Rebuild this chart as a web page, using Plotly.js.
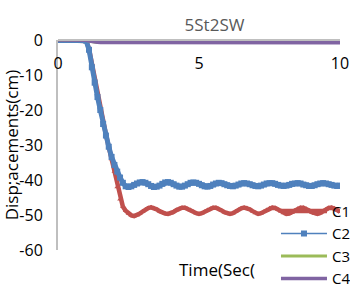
<!DOCTYPE html>
<html>
<head>
<meta charset="utf-8">
<script src="https://cdn.plot.ly/plotly-3.0.1.min.js"></script>
<style>html,body{margin:0;padding:0;background:#fff;}#chart{width:350px;height:287px;}</style>
</head>
<body>
<div id="chart"></div>
<script>
var chartTitle = "5St2SW";
var xTitle = "Time(Sec(";
var yTitle = "Disp;acements(cm)";
var seriesNames = ["C1", "C2", "C3", "C4"];
var yTickVals = [0, -10, -20, -30, -40, -50, -60];
var yTickText = ["0", "-10", "-20", "-30", "-40", "-50", "-60"];
var xTickVals = [0, 5, 10];
var xTickText = ["0", "5", "10"];

var time = [0,0.1,0.2,0.3,0.4,0.5,0.6,0.7,0.8,0.9,
1.0,1.1,1.2,1.3,1.4,1.5,1.6,1.7,1.8,1.9,
2.0,2.1,2.2,2.3,2.4,2.5,2.6,2.7,2.8,2.9,
3.0,3.1,3.2,3.3,3.4,3.5,3.6,3.7,3.8,3.9,
4.0,4.1,4.2,4.3,4.4,4.5,4.6,4.7,4.8,4.9,
5.0,5.1,5.2,5.3,5.4,5.5,5.6,5.7,5.8,5.9,
6.0,6.1,6.2,6.3,6.4,6.5,6.6,6.7,6.8,6.9,
7.0,7.1,7.2,7.3,7.4,7.5,7.6,7.7,7.8,7.9,
8.0,8.1,8.2,8.3,8.4,8.5,8.6,8.7,8.8,8.9,
9.0,9.1,9.2,9.3,9.4,9.5,9.6,9.7,9.8,9.9,10.0];

var c1 = [0,0,0,0,0,0,0,0,0,0,
-0.3,-2.5,-6.8,-11.0,-15.2,-19.2,-23.2,-27.0,-30.6,-34.0,
-37.6,-42.0,-45.5,-47.6,-48.8,-49.6,-50.1,-50.3,-50.1,-49.6,
-49.0,-48.4,-48.0,-47.8,-48.0,-48.4,-48.9,-49.3,-49.6,-49.7,
-49.5,-49.1,-48.6,-48.2,-47.9,-47.9,-48.2,-48.6,-49.1,-49.5,
-49.7,-49.5,-49.1,-48.6,-48.2,-47.9,-47.9,-48.2,-48.7,-49.2,
-49.5,-49.7,-49.5,-49.0,-48.5,-48.1,-47.9,-48.0,-48.4,-48.9,
-49.4,-49.7,-49.5,-49.1,-48.6,-48.1,-47.9,-48.0,-48.4,-48.9,
-49.4,-49.7,-49.6,-49.2,-48.7,-48.2,-47.9,-47.9,-48.2,-48.7,
-49.2,-49.6,-49.7,-49.4,-48.9,-48.4,-48.0,-47.9,-48.1,-48.6,-49.1];

var c2 = [0,0,0,0,0,0,0,0,0,0,
-0.2,-2.8,-7.8,-12.2,-16.3,-20.0,-24.0,-27.3,-30.5,-33.4,
-35.7,-37.6,-39.3,-40.8,-41.8,-42.0,-41.8,-41.4,-41.0,-40.7,
-40.6,-40.8,-41.2,-41.7,-42.0,-41.9,-41.6,-41.1,-40.7,-40.6,
-40.8,-41.2,-41.6,-41.9,-41.9,-41.6,-41.2,-40.8,-40.7,-40.8,
-41.1,-41.5,-41.8,-41.9,-41.7,-41.3,-41.0,-40.8,-40.9,-41.2,
-41.5,-41.7,-41.8,-41.6,-41.3,-41.0,-40.9,-41.0,-41.2,-41.5,
-41.7,-41.8,-41.6,-41.3,-41.0,-40.9,-40.9,-41.1,-41.4,-41.6,
-41.7,-41.6,-41.4,-41.1,-41.0,-40.9,-41.0,-41.3,-41.5,-41.7,
-41.7,-41.5,-41.2,-41.0,-40.9,-41.0,-41.2,-41.4,-41.6,-41.7,-41.6];

var c3 = [0,0,0,0,0,0,0,0,0,0,
-0.1,-0.3,-0.5,-0.6,-0.7,-0.7,-0.7,-0.7,-0.7,-0.7,
-0.7,-0.7,-0.7,-0.7,-0.7,-0.7,-0.7,-0.7,-0.7,-0.7,
-0.7,-0.7,-0.7,-0.7,-0.7,-0.7,-0.7,-0.7,-0.7,-0.7,
-0.7,-0.7,-0.7,-0.7,-0.7,-0.7,-0.7,-0.7,-0.7,-0.7,
-0.7,-0.7,-0.7,-0.7,-0.7,-0.7,-0.7,-0.7,-0.7,-0.7,
-0.7,-0.7,-0.7,-0.7,-0.7,-0.7,-0.7,-0.7,-0.7,-0.7,
-0.7,-0.7,-0.7,-0.7,-0.7,-0.7,-0.7,-0.7,-0.7,-0.7,
-0.7,-0.7,-0.7,-0.7,-0.7,-0.7,-0.7,-0.7,-0.7,-0.7,
-0.7,-0.7,-0.7,-0.7,-0.7,-0.7,-0.7,-0.7,-0.7,-0.7,-0.7];

var c4 = [0,0,0,0,0,0,0,0,0,0,
-0.1,-0.3,-0.5,-0.6,-0.65,-0.7,-0.7,-0.65,-0.65,-0.7,
-0.7,-0.7,-0.65,-0.65,-0.7,-0.7,-0.7,-0.7,-0.65,-0.65,
-0.7,-0.7,-0.7,-0.7,-0.7,-0.65,-0.65,-0.7,-0.7,-0.7,
-0.7,-0.7,-0.7,-0.7,-0.75,-0.75,-0.7,-0.7,-0.7,-0.7,
-0.7,-0.7,-0.7,-0.75,-0.75,-0.75,-0.7,-0.7,-0.7,-0.75,
-0.75,-0.75,-0.75,-0.75,-0.75,-0.75,-0.75,-0.75,-0.75,-0.75,
-0.75,-0.75,-0.75,-0.8,-0.8,-0.8,-0.75,-0.75,-0.75,-0.75,
-0.75,-0.8,-0.8,-0.8,-0.8,-0.8,-0.8,-0.8,-0.8,-0.8,
-0.8,-0.8,-0.8,-0.8,-0.8,-0.8,-0.8,-0.8,-0.8,-0.8,-0.8];

var FONT = "Open Sans, Liberation Sans, sans-serif";
var RED = "#C0504D", BLUE = "#4F81BD", GREEN = "#9BBB59", PURPLE = "#8064A2";

var traces = [
  {x: time, y: c1, name: seriesNames[0], mode: "lines+markers",
   line: {color: RED, width: 4.5}, marker: {symbol: "triangle-up", size: 5, color: RED}},
  {x: time, y: c2, name: seriesNames[1], showlegend: false, hoverinfo: "skip", mode: "lines",
   line: {color: BLUE, width: 5}},
  {x: time, y: c2, name: seriesNames[1], mode: "lines+markers",
   line: {color: BLUE, width: 1.5}, marker: {symbol: "square", size: 6, color: BLUE}},
  {x: time, y: c3, name: seriesNames[2], mode: "lines",
   line: {color: GREEN, width: 3}},
  {x: time, y: c4, name: seriesNames[3], mode: "lines",
   line: {color: PURPLE, width: 3.5}}
];

var layout = {
  width: 350, height: 287,
  margin: {l: 58, r: 10, t: 40, b: 37, pad: 0, autoexpand: false},
  paper_bgcolor: "#ffffff", plot_bgcolor: "#ffffff",
  font: {family: FONT, size: 16, color: "#000000"},
  title: {text: chartTitle, font: {family: FONT, size: 17, color: "#595959"},
          x: 0.555, xanchor: "center", y: 0.912, yanchor: "middle", xref: "paper"},
  showlegend: true,
  legend: {x: 0.773, xanchor: "left", y: 0.263, yanchor: "top", bgcolor: "rgba(0,0,0,0)",
           font: {family: FONT, size: 15, color: "#000000"}, itemwidth: 46, tracegroupgap: 0},
  xaxis: {range: [0, 10], anchor: "free", position: 1, side: "bottom",
          tickvals: xTickVals, ticktext: xTickText,
          showline: true, linecolor: "#BFBFBF", linewidth: 2,
          ticks: "outside", ticklen: 9, tickcolor: "rgba(0,0,0,0)",
          showgrid: false, zeroline: false,
          tickfont: {family: FONT, size: 16, color: "#000000"}},
  yaxis: {range: [-60, 0], tickvals: yTickVals, ticktext: yTickText,
          showline: true, linecolor: "#BFBFBF", linewidth: 2,
          ticks: "outside", ticklen: 10, tickcolor: "rgba(0,0,0,0)",
          showgrid: false, zeroline: false,
          tickfont: {family: FONT, size: 16, color: "#000000"},
          title: {text: yTitle, font: {family: FONT, size: 17, color: "#000000"}, standoff: 0}},
  annotations: [
    {text: xTitle, xref: "paper", yref: "paper", x: 0.565, y: 0, xanchor: "center", yanchor: "middle",
     yshift: -19, showarrow: false, font: {family: FONT, size: 17, color: "#000000"}}
  ]
};

Plotly.newPlot("chart", traces, layout, {displayModeBar: false, staticPlot: true});
</script>
</body>
</html>
